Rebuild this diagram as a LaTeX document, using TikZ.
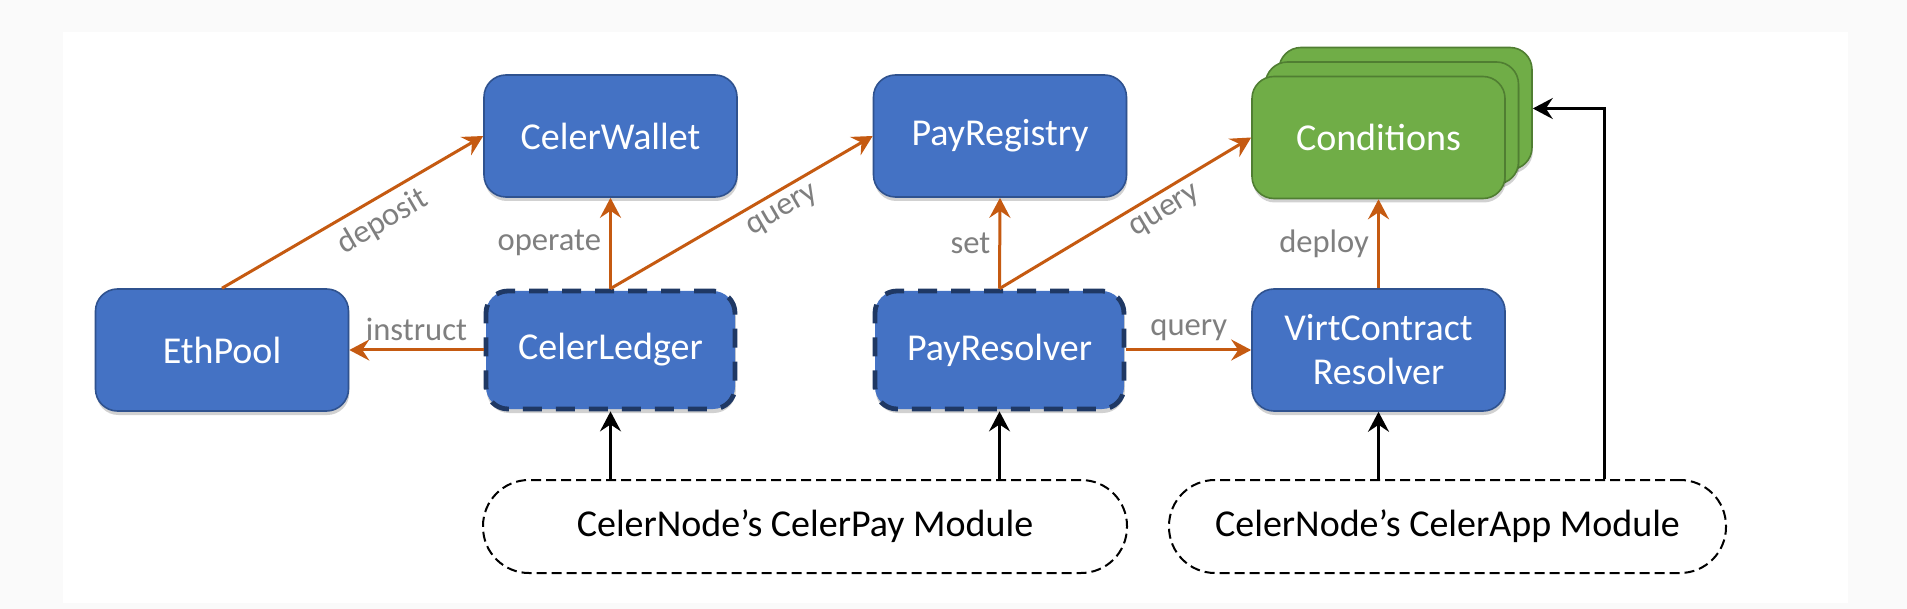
\documentclass[tikz,border=0pt]{standalone}
\usepackage{fontspec}
\setmainfont{Carlito}
\usetikzlibrary{arrows.meta,shadows}
\definecolor{boxblue}{HTML}{4472C4}
\definecolor{boxedge}{HTML}{2F528F}
\definecolor{navyedge}{HTML}{1F3864}
\definecolor{cgreen}{HTML}{70AD47}
\definecolor{cgreenedge}{HTML}{507E32}
\definecolor{flow}{HTML}{C55A11}
\definecolor{lblgray}{HTML}{7F7F7F}
\definecolor{outerbg}{HTML}{FAFAFA}
\begin{document}
\begin{tikzpicture}[x=0.5pt,y=-0.5pt,
  comp/.style={rectangle, rounded corners=11pt, minimum width=126.5pt, minimum height=61pt,
    font=\fontsize{19}{22}\selectfont, text=white, align=center, inner sep=0pt},
  softshadow/.style={drop shadow={shadow xshift=0.4pt, shadow yshift=-2pt, opacity=0.18, fill=black}},
  solidbox/.style={comp, fill=boxblue, draw=boxedge, line width=0.8pt, softshadow},
  dashbox/.style={comp, fill=boxblue, draw=navyedge, line width=2.4pt, dash pattern=on 9.5pt off 7pt,
    minimum width=124.5pt, minimum height=59pt, softshadow},
  greenbox/.style={comp, fill=cgreen, draw=cgreenedge, line width=0.8pt, softshadow},
  module/.style={rectangle, rounded corners=23pt, minimum height=46.5pt, draw=black, line width=1pt,
    dash pattern=on 5pt off 2.5pt, fill=white, font=\fontsize{19}{22}\selectfont, inner sep=0pt},
  tipstyle/.style={-{Stealth[length=10pt,width=10.5pt,inset=3.5pt]}},
  flowarrow/.style={draw=flow, line width=1.5pt, tipstyle},
  ctrlarrow/.style={draw=black, line width=1.5pt, tipstyle},
  lbl/.style={text=lblgray, font=\fontsize{16.3}{19}\selectfont, inner sep=4pt}
]
\useasboundingbox (0,0) rectangle (1907,609);
\fill[outerbg] (0,0) rectangle (1907,609);
\fill[white] (63,32) rectangle (1848,603);

% top row
\node[solidbox] (wallet) at (610.5,136) {CelerWallet};
\node[solidbox] (registry) at (1000,136) {PayRegistry};
\node[greenbox] (condback) at (1405.5,108.5) {};
\node[greenbox] (condmid) at (1392,123) {};
\node[greenbox] (cond) at (1378.5,137.5) {Conditions};

% middle row
\node[solidbox] (eth) at (222,350) {EthPool};
\node[dashbox] (ledger) at (610.5,350) {CelerLedger};
\node[dashbox] (resolver) at (999.5,350) {PayResolver};
\node[solidbox] (virt) at (1378.5,350) {VirtContract\\Resolver};

% modules
\node[module, minimum width=322pt] (paymod) at (805,526.5) {CelerNode’s CelerPay Module};
\node[module, minimum width=278.5pt] (appmod) at (1447.5,526.5) {CelerNode’s CelerApp Module};
\coordinate (railx) at (1604,0);

% orange flows
\draw[flowarrow] (ledger.west) -- node[lbl, above]{instruct} (eth.east);
\draw[flowarrow] (eth.north) -- node[lbl, sloped, below, pos=0.57]{deposit} (wallet.west);
\draw[flowarrow] (ledger.north) -- node[lbl, left]{operate} (wallet.south);
\draw[flowarrow] (ledger.north) -- node[lbl, sloped, below, pos=0.62]{query} (registry.west);
\draw[flowarrow] (resolver.north) -- node[lbl, left]{set} (registry.south);
\draw[flowarrow] (resolver.north) -- node[lbl, sloped, below, pos=0.62]{query} (cond.west);
\draw[flowarrow] (resolver.east) -- node[lbl, above]{query} (virt.west);
\draw[flowarrow] (virt.north) -- node[lbl, left]{deploy} (cond.south);

% black control arrows
\draw[ctrlarrow] (paymod.north -| ledger.south) -- (ledger.south);
\draw[ctrlarrow] (paymod.north -| resolver.south) -- (resolver.south);
\draw[ctrlarrow] (appmod.north -| virt.south) -- (virt.south);
\draw[ctrlarrow] (appmod.north -| railx) |- (condback.east);
\end{tikzpicture}
\end{document}
